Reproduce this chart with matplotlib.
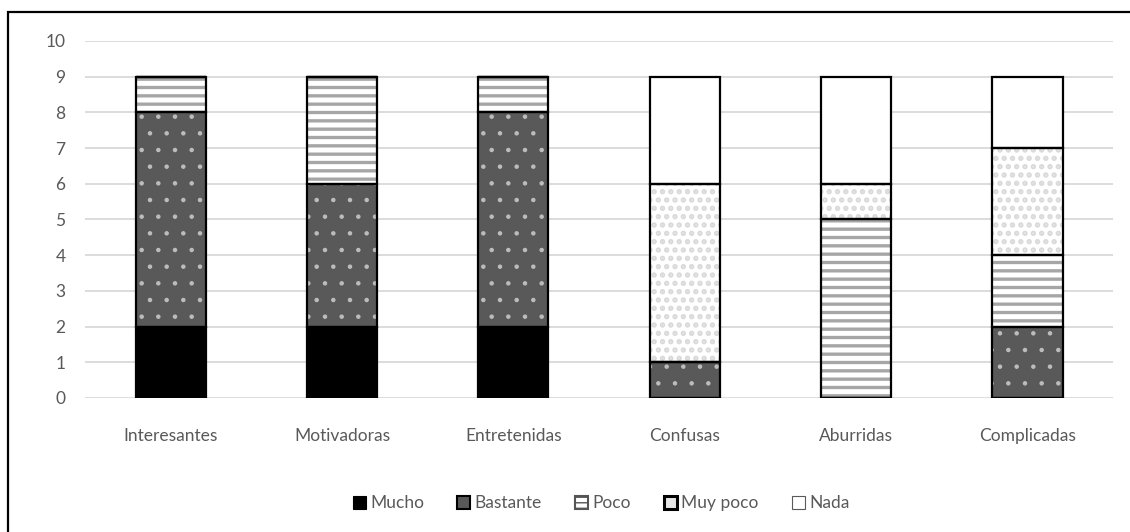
import matplotlib
matplotlib.use("Agg")
import matplotlib.pyplot as plt
from matplotlib.patches import Patch, Rectangle
import numpy as np

plt.rcParams['font.family'] = ['Lato', 'DejaVu Sans']

categorias = ["Interesantes", "Motivadoras", "Entretenidas", "Confusas", "Aburridas", "Complicadas"]
series = ["Mucho", "Bastante", "Poco", "Muy poco", "Nada"]
mucho = [2, 2, 2, 0, 0, 0]
bastante = [6, 4, 6, 1, 0, 2]
poco = [1, 3, 1, 0, 5, 2]
muy_poco = [0, 0, 0, 5, 1, 3]
nada = [0, 0, 0, 3, 3, 2]

# fill colour, hatch, hatch colour, hatch width for each series
estilos = [
    ("#000000", None, "#000000", 1.0),
    ("#595959", ".", "#bdbdbd", 0.8),
    ("#ffffff", "--", "#a6a6a6", 2.4),
    ("#ffffff", "..", "#d9d9d9", 2.6),
    ("#ffffff", None, "#ffffff", 1.0),
]

texto = "#595959"

fig = plt.figure(figsize=(11.3, 5.32), dpi=100)
ax = fig.add_axes([0.0752, 0.252, 0.9098, 0.671])

x = np.arange(len(categorias))
ancho = 0.41
base = np.zeros(len(categorias))
for valores, (color, hatch, hcolor, hlw) in zip([mucho, bastante, poco, muy_poco, nada], estilos):
    with plt.rc_context({'hatch.linewidth': hlw}):
        ax.bar(x, valores, ancho, bottom=base, color=color, hatch=hatch,
               edgecolor=hcolor, linewidth=0, zorder=2)
    ax.bar(x, valores, ancho, bottom=base, fill=False, edgecolor="black",
           linewidth=1.6, zorder=3)
    base += np.array(valores)

ax.set_xlim(-0.5, len(categorias) - 0.5)
ax.set_ylim(0, 10)
ax.set_yticks(range(0, 11))
ax.set_xticks(x)
ax.set_xticklabels(categorias)
ax.tick_params(axis='both', length=0, labelsize=12.5, colors=texto)
ax.tick_params(axis='x', pad=22)
ax.tick_params(axis='y', pad=14)
ax.grid(axis='y', color="#d9d9d9", linewidth=1.3, zorder=0)
ax.set_axisbelow(True)
for s in ax.spines.values():
    s.set_visible(False)

# legend
handles = []
for nombre in series:
    if nombre == "Mucho":
        h = Patch(facecolor="black", edgecolor="black", linewidth=0.8)
    elif nombre == "Bastante":
        h = Patch(facecolor="#595959", edgecolor="black", linewidth=1.5)
    elif nombre == "Poco":
        h = Patch(facecolor="#ffffff", hatch="---", edgecolor="#555555", linewidth=1.5)
    elif nombre == "Muy poco":
        h = Patch(facecolor="#e6e6e6", edgecolor="black", linewidth=2.2)
    else:
        h = Patch(facecolor="white", edgecolor="#595959", linewidth=0.8)
    handles.append(h)
leg = fig.legend(handles, series, loc="center", bbox_to_anchor=(0.532, 0.054), ncol=5,
                 frameon=False, fontsize=12.5, handlelength=0.75, handleheight=0.75,
                 handletextpad=0.25, columnspacing=1.9)
for t in leg.get_texts():
    t.set_color(texto)

# chart frame
fig.patches.append(Rectangle((8 / 1130, -0.1), 1.2, 1.1 - 12 / 532,
                             transform=fig.transFigure, fill=False,
                             edgecolor="black", linewidth=1.6, zorder=10))

fig.savefig("out.png", dpi=100)
